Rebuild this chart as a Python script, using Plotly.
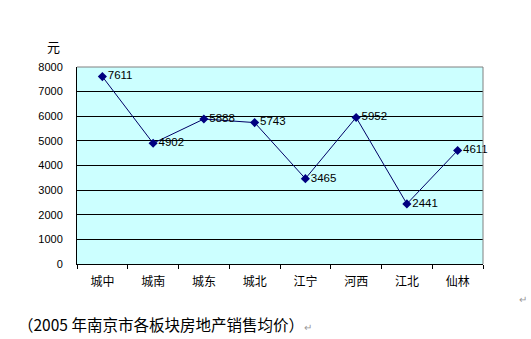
import plotly.graph_objects as go

districts = ["城中", "城南", "城东", "城北", "江宁", "河西", "江北", "仙林"]
avg_price = [7611, 4902, 5888, 5743, 3465, 5952, 2441, 4611]
y_ticks = [0, 1000, 2000, 3000, 4000, 5000, 6000, 7000, 8000]

W, H = 531, 339
L, R, T, B = 77, 48, 67, 75

fig = go.Figure()
fig.add_trace(go.Scatter(
    x=districts, y=avg_price,
    mode="lines+markers+text",
    line=dict(color="#000066", width=1),
    marker=dict(symbol="diamond", size=7, color="#000080"),
    text=[str(v) for v in avg_price],
    textposition="middle right",
    textfont=dict(family="Liberation Sans, Arial", size=11.5, color="#000000"),
    cliponaxis=False,
    hoverinfo="skip",
))

fig.update_layout(
    width=W, height=H,
    margin=dict(l=L, r=R, t=T, b=B),
    paper_bgcolor="#FFFFFF",
    plot_bgcolor="#CCFFFF",
    showlegend=False,
    font=dict(family="Liberation Sans, Noto Sans CJK SC", color="#000000"),
    xaxis=dict(
        type="category",
        range=[-0.5, 7.5],
        showgrid=False,
        showline=True, linecolor="#000000", linewidth=1,
        ticks="outside", tickson="boundaries", ticklen=4, tickcolor="#000000",
        tickfont=dict(family="Noto Sans CJK SC", size=12, color="#000000"),
        ticklabelstandoff=7,
        mirror=False,
    ),
    yaxis=dict(
        range=[0, 8000],
        tickvals=y_ticks,
        ticktext=[str(v) for v in y_ticks],
        showgrid=True, gridcolor="#000000", gridwidth=1,
        showline=True, linecolor="#000000", linewidth=1,
        zeroline=False,
        ticks="", ticklabelstandoff=11,
        tickfont=dict(family="Liberation Sans, Arial", size=11, color="#000000"),
    ),
)

# grey frame on the top and right of the plot area
fig.add_shape(type="line", xref="paper", yref="paper", x0=0, x1=1, y0=1, y1=1,
              line=dict(color="#808080", width=1))
fig.add_shape(type="line", xref="paper", yref="paper", x0=1, x1=1, y0=0, y1=1,
              line=dict(color="#808080", width=1))

# unit label above the value axis
fig.add_annotation(text="元", xref="paper", yref="paper",
                   x=-0.057, y=1.0, yshift=21, xanchor="center", yanchor="middle",
                   showarrow=False,
                   font=dict(family="Noto Sans CJK SC", size=13, color="#000000"))

# caption below the chart
fig.add_annotation(text="（2005 年南京市各板块房地产销售均价）<span style='color:#999999;font-size:10px'>↵</span>",
                   xref="paper", yref="paper", x=-0.15, y=0, yshift=-60,
                   xanchor="left", yanchor="middle", showarrow=False,
                   font=dict(family="Noto Sans CJK SC", size=15.5, color="#000000"))

fig.add_annotation(text="↵", xref="paper", yref="paper", x=1.0, y=0,
                   xshift=40, yshift=-35, xanchor="center", yanchor="middle",
                   showarrow=False, font=dict(size=10, color="#999999"))

fig.write_html("out.html")
